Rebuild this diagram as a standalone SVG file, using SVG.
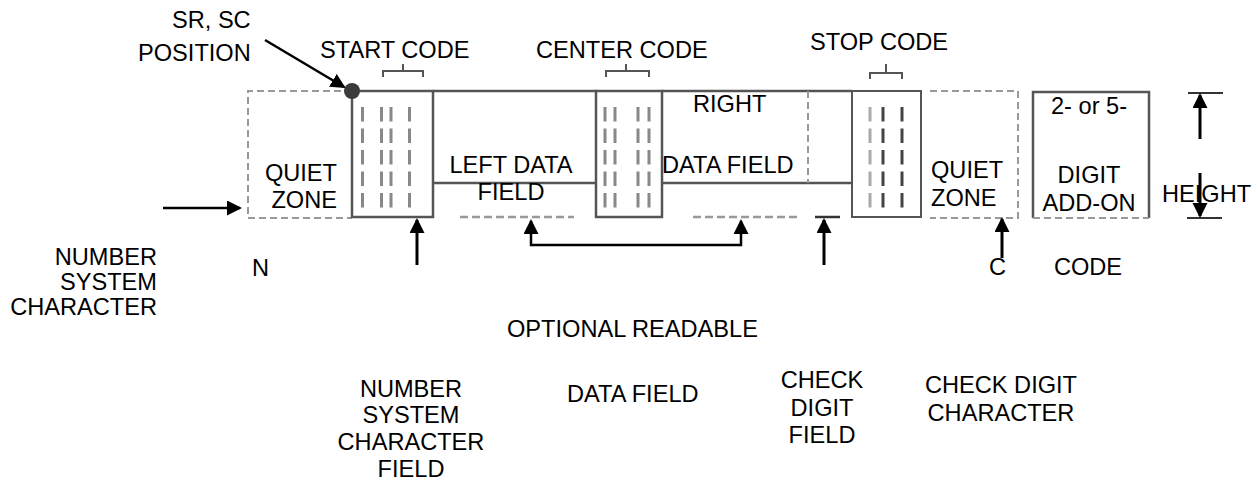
<svg xmlns="http://www.w3.org/2000/svg" width="1256" height="481" viewBox="0 0 1256 481">
<defs>
<marker id="ah" markerUnits="userSpaceOnUse" markerWidth="16" markerHeight="16" refX="13" refY="7.5" orient="auto-start-reverse" viewBox="0 0 16 16">
<path d="M0,0 L15,7.5 L0,15 z" fill="#000"/>
</marker>
<style>
text{font-family:"Liberation Sans",Arial,sans-serif;font-size:23.6px;fill:#000}
.mid{text-anchor:middle}
.end{text-anchor:end}
.box{fill:none;stroke:#555;stroke-width:2.5}
.qz{fill:none;stroke:#999;stroke-width:2;stroke-dasharray:7 4}
.bars{stroke:#888;stroke-width:3;stroke-dasharray:14.5 7}
.dark{stroke:#444}
.light{stroke:#aaa}
.brk{fill:none;stroke:#555;stroke-width:2}
.arr{fill:none;stroke:#000;stroke-width:3;marker-end:url(#ah)}
.ln{stroke:#333;stroke-width:2}
</style>
</defs>
<rect width="1256" height="481" fill="#fff"/>

<g id="quiet-left">
<path class="qz" d="M352,91 H248 V218 H352"/>
<text class="end" x="337" y="181">QUIET</text>
<text class="end" x="337" y="208">ZONE</text>
</g>

<g id="start-code">
<rect class="box" x="352" y="91" width="81" height="126"/>
<g class="bars">
<line x1="362.5" y1="107" x2="362.5" y2="208"/>
<line x1="381.5" y1="107" x2="381.5" y2="208"/>
<line x1="391" y1="107" x2="391" y2="208"/>
<line x1="409.5" y1="107" x2="409.5" y2="208"/>
</g>
<path class="brk" d="M383,77 V71 H423 V77 M403,71 V64"/>
<text x="320" y="58">START CODE</text>
</g>

<g id="left-data">
<path class="box" d="M433,91 H596 M433,183 H596"/>
<line class="qz" x1="460" y1="217" x2="574" y2="217" style="stroke-dasharray:8 4;stroke-width:2.5"/>
<text class="mid" x="511" y="173">LEFT DATA</text>
<text class="mid" x="511" y="200">FIELD</text>
</g>

<g id="center-code">
<rect class="box" x="596" y="91" width="66" height="126"/>
<g class="bars">
<line x1="605" y1="107" x2="605" y2="208"/>
<line x1="615" y1="107" x2="615" y2="208"/>
<line x1="638" y1="107" x2="638" y2="208"/>
<line x1="649" y1="107" x2="649" y2="208"/>
</g>
<path class="brk" d="M606,77 V71 H649 V77 M626,71 V64"/>
<text x="536" y="58">CENTER CODE</text>
</g>

<g id="right-data">
<path class="box" d="M662,91 H852 M662,183 H852"/>
<line class="qz" x1="808" y1="91" x2="808" y2="183"/>
<line class="qz" x1="693" y1="217" x2="801" y2="217" style="stroke-dasharray:8 4;stroke-width:2.5"/>
<line class="ln" x1="815" y1="217" x2="840" y2="217" style="stroke-width:2.5"/>
<text x="693" y="112">RIGHT</text>
<text x="662" y="173">DATA FIELD</text>
</g>

<g id="stop-code">
<rect x="852" y="91" width="69" height="126" fill="none" stroke="#555" stroke-width="2"/>
<g class="bars">
<line class="light" x1="870" y1="107" x2="870" y2="208"/>
<line class="dark" x1="883" y1="107" x2="883" y2="208"/>
<line class="dark" x1="902" y1="107" x2="902" y2="208"/>
</g>
<path class="brk" d="M870,79 V73 H902 V79 M886,73 V64"/>
<text x="810" y="50">STOP CODE</text>
</g>

<g id="quiet-right">
<path class="qz" d="M930,91 H1018 V218 H930"/>
<text x="931" y="178">QUIET</text>
<text x="931" y="206">ZONE</text>
</g>

<g id="add-on">
<path class="box" d="M1033,218 V92 H1149 V218"/>
<line class="qz" x1="1033" y1="218" x2="1149" y2="218"/>
<text x="1051" y="114">2- or 5-</text>
<text class="mid" x="1089" y="183">DIGIT</text>
<text class="mid" x="1089" y="211">ADD-ON</text>
<text class="mid" x="1088" y="275">CODE</text>
</g>

<g id="sr-sc">
<circle cx="352" cy="91" r="8" fill="#3a3a3a"/>
<text x="172" y="28">SR, SC</text>
<text x="138" y="61">POSITION</text>
</g>

<g id="height">
<line class="ln" x1="1188" y1="93" x2="1223" y2="93"/>
<line class="ln" x1="1187" y1="218" x2="1222" y2="218"/>
<text x="1162" y="202">HEIGHT</text>
</g>

<g id="labels">
<text class="end" x="157" y="265">NUMBER</text>
<text class="end" x="157" y="290">SYSTEM</text>
<text class="end" x="157" y="315">CHARACTER</text>
<text x="252" y="276">N</text>
<text x="989" y="275">C</text>
<text x="507" y="337">OPTIONAL READABLE</text>
<text class="mid" x="411" y="397">NUMBER</text>
<text class="mid" x="411" y="423">SYSTEM</text>
<text class="mid" x="411" y="450">CHARACTER</text>
<text class="mid" x="411" y="477">FIELD</text>
<text x="567" y="402">DATA FIELD</text>
<text class="mid" x="822" y="388">CHECK</text>
<text class="mid" x="822" y="416">DIGIT</text>
<text class="mid" x="822" y="443">FIELD</text>
<text class="mid" x="1001" y="393">CHECK DIGIT</text>
<text class="mid" x="1001" y="421">CHARACTER</text>
</g>

<g id="connectors">
<line class="arr" x1="265" y1="40" x2="344" y2="87" style="stroke-width:2.5"/>
<line class="arr" x1="163" y1="208" x2="240" y2="208" style="stroke-width:2.5"/>
<line class="arr" x1="417" y1="265" x2="417" y2="220"/>
<path class="arr" d="M531,221 V245 H741 V221" style="stroke-width:2.5;marker-start:url(#ah)"/>
<line class="arr" x1="824" y1="265" x2="824" y2="220"/>
<line class="arr" x1="1002" y1="258" x2="1002" y2="219"/>
<line class="arr" x1="1200" y1="139" x2="1200" y2="95"/>
<line class="arr" x1="1200" y1="173" x2="1200" y2="216"/>
</g>
</svg>
